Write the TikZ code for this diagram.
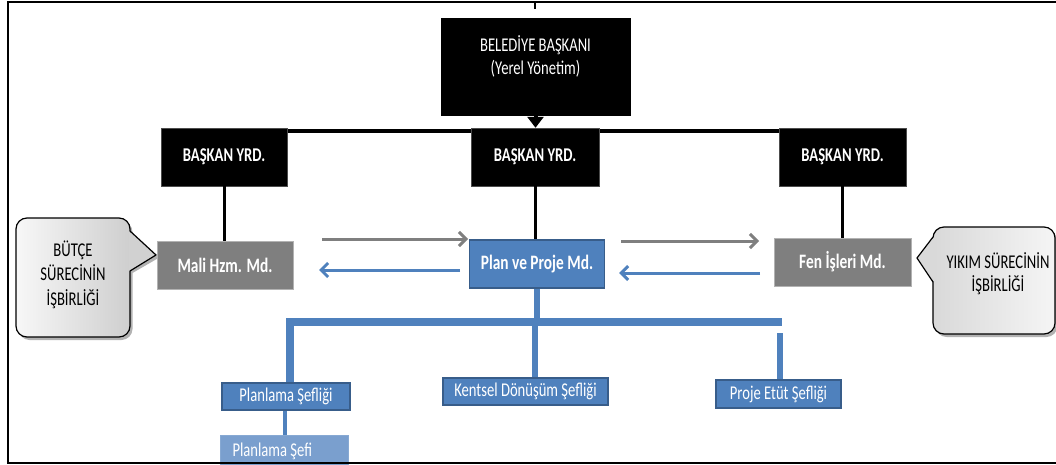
\documentclass[tikz,border=0pt]{standalone}
\usepackage{fontspec}
\setmainfont{Carlito}[FakeStretch=0.75]
\usetikzlibrary{arrows.meta}
\definecolor{mgrgray}{HTML}{7F7F7F}
\definecolor{unitblue}{HTML}{4F81BD}
\definecolor{unitedge}{HTML}{385D8A}
\definecolor{paleblue}{HTML}{7A9FCE}
\newcommand{\orgfont}{\fontsize{19.5}{23}\selectfont}
\begin{document}
\begin{tikzpicture}[x=1pt,y=-1pt,font=\orgfont,
  mayorbox/.style={fill=black,draw=black,minimum width=189pt,minimum height=97pt,inner sep=0pt},
  deputybox/.style={fill=black,draw=black!70,text=white,font=\orgfont\bfseries,
    minimum height=58pt,inner sep=0pt},
  graydept/.style={fill=mgrgray,draw=gray!60,line width=0.6pt,text=white,font=\fontsize{20.5}{24}\selectfont\bfseries,
    minimum width=136pt,minimum height=48pt,inner sep=0pt},
  bluedept/.style={fill=unitblue,draw=unitedge,line width=1.5pt,text=white,font=\fontsize{20.5}{24}\selectfont\bfseries,
    minimum width=135pt,minimum height=48pt,inner sep=0pt},
  chiefbox/.style={fill=unitblue,draw=unitedge,line width=1.3pt,text=white,
    minimum height=27pt,inner sep=0pt},
  staffbox/.style={fill=paleblue,draw=paleblue!90!white,line width=0.6pt,
    minimum width=128pt,minimum height=40pt,inner sep=0pt},
  blackline/.style={draw=black,line width=3pt},
  treeline/.style={draw=unitblue,line width=6pt},
  grayarr/.style={draw=mgrgray,line width=3pt,-{Straight Barb[length=7pt,width=14pt]}},
  bluearr/.style={draw=unitblue,line width=3pt,-{Straight Barb[length=7pt,width=14pt]}},
  bubbleshadow/.style={fill=black,opacity=0.3,rounded corners=11pt},
  bubblebody/.style={draw=black,line width=1.2pt,left color=gray!6,right color=gray!38,rounded corners=11pt},
  pointerfill/.style={fill=gray!36},
  pointeredge/.style={draw=black,line width=1.2pt,line join=miter},
  calltext/.style={align=center,font=\orgfont,text=black}]

\useasboundingbox (0,0) rectangle (1056,465);

% ---- speech bubbles ----
% left bubble: shadow, rounded body, pointer towards the finance directorate
\fill[bubbleshadow] (18.5,221) rectangle (132.5,340);
\fill[black,opacity=0.3] (132.5,235) -- (158.5,258) -- (132.5,273) -- cycle;
\path[bubblebody] (16,218) rectangle (130,337);
\fill[pointerfill] (129,231) -- (156,255) -- (129,271) -- cycle;
\draw[pointeredge] (130,231) -- (156,255) -- (130,271);
\node[calltext] (bubbleL) at (73,274.5) {BÜTÇE\\[1.5pt]SÜRECİNİN\\[1.5pt]İŞBİRLİĞİ};

% right bubble: pointer towards the public works directorate
\fill[bubbleshadow] (935.5,230) rectangle (1057.5,337);
\fill[black,opacity=0.3] (935.5,240) -- (919.5,261) -- (935.5,285) -- cycle;
\path[bubblebody,left color=gray!30,right color=gray!8] (933,227) rectangle (1055,334);
\fill[gray!30] (934,237) -- (917,258) -- (934,282) -- cycle;
\draw[pointeredge] (933,237) -- (917,258) -- (933,282);
\node[calltext] (bubbleR) at (998,273.5) {YIKIM SÜRECİNİN\\İŞBİRLİĞİ};

% ---- mayor and deputies ----
\node[mayorbox] (mayor) at (535.5,66.5) {};
\node[deputybox,minimum width=126pt] (yrdL) at (224,157) {};
\node[deputybox,minimum width=128pt] (yrdM) at (535,157) {};
\node[deputybox,minimum width=127pt] (yrdR) at (842.5,157) {};

% ---- black hierarchy lines (under the boxes) ----
\draw[blackline,line width=4.5pt] ([yshift=-3pt]yrdL.north) -- ([yshift=-3pt]yrdR.north);
\draw[line width=4pt,-{Triangle[length=11pt 0 0,width=16pt 0 0]}] (mayor.south) -- (mayor.south |- yrdM.north);

% deputy boxes on top of the bar
\node[deputybox,minimum width=126pt] at (yrdL) {BAŞKAN YRD.};
\node[deputybox,minimum width=128pt] at (yrdM) {BAŞKAN YRD.};
\node[deputybox,minimum width=127pt] at (yrdR) {BAŞKAN YRD.};

% mayor label
\node[text=white,align=center] (mayortext) at ([yshift=10pt]mayor.center)
  {BELEDİYE BAŞKANI\\(Yerel Yönetim)};

% ---- directorates ----
\node[graydept] (mali) at (225,265) {Mali Hzm. Md.};
\node[bluedept] (plan) at (537,264) {Plan ve Proje Md.};
\node[graydept,minimum width=137pt] (fen) at (842.5,262) {Fen İşleri Md.};

\draw[blackline] (yrdL.south) -- (yrdL.south |- mali.north);
\draw[blackline] (yrdM.south) -- (yrdM.south |- plan.north);
\draw[blackline] (yrdR.south) -- (yrdR.south |- fen.north);

% ---- cooperation arrows ----
\coordinate (a1s) at (322,239); \coordinate (a1e) at (468,239);
\coordinate (a2s) at (460,270); \coordinate (a2e) at (319,270);
\coordinate (a3s) at (621,241); \coordinate (a3e) at (759,241);
\coordinate (a4s) at (760,273); \coordinate (a4e) at (619,273);
\draw[grayarr] (a1s) -- (a1e);
\draw[bluearr] (a2s) -- (a2e);
\draw[grayarr] (a3s) -- (a3e);
\draw[bluearr] (a4s) -- (a4e);

% ---- chiefdoms ----
\node[chiefbox,minimum width=128pt] (sef1) at (286,396.5) {};
\node[chiefbox,minimum width=165pt] (sef2) at (525.5,391.5) {};
\node[chiefbox,minimum width=125pt,minimum height=28pt] (sef3) at (778.5,394) {};
\node[staffbox] (sefi) at (284,455) {};
\node[anchor=west,text=white] (sefitext) at (229,451) {Planlama Şefi};

% ---- blue tree ----
\coordinate (dropL) at (290,322);
\coordinate (dropM) at (535,322);
\coordinate (busR) at (782,322);
\coordinate (dropR) at (779.5,333);
\draw[treeline] (plan.south) -- (plan.south |- dropM);
\draw[treeline,line width=8pt,line join=miter] ([yshift=-0.5pt]dropL |- sef1.north) -- (dropL) -- (busR);
\draw[treeline] (dropM) -- (dropM |- sef2.north);
\draw[treeline] (dropR) -- (dropR |- sef3.north);
\draw[draw=unitblue,line width=4pt] (sef1.south -| 285,0) -- (sefi.north -| 285,0);

% chief boxes over the line ends
\node[chiefbox,minimum width=128pt] at (sef1) {Planlama Şefliği};
\node[chiefbox,minimum width=165pt] at (sef2) {Kentsel Dönüşüm Şefliği};
\node[chiefbox,minimum width=125pt,minimum height=28pt] at (sef3) {Proje Etüt Şefliği};

% ---- frame ----
\coordinate (tickTop) at (535,2);
\coordinate (tickEnd) at (535,9);
\draw[line width=1.5pt] (tickTop) -- (tickEnd);
\draw[line width=2pt] (1056,2) -- (8,2) -- (8,463) -- (1056,463);
\end{tikzpicture}
\end{document}
